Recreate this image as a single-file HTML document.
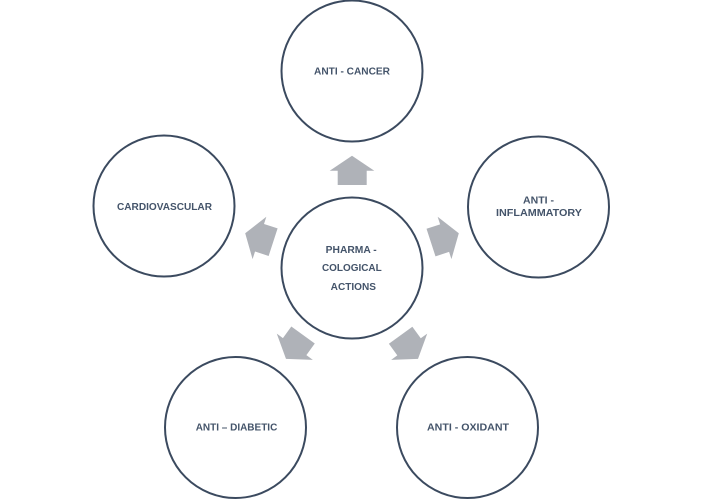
<!DOCTYPE html>
<html><head><meta charset="utf-8"><style>
html,body{margin:0;padding:0;background:#fff;}
svg{display:block;}
text{font-family:"Liberation Sans",Arial,sans-serif;font-weight:bold;font-size:10px;fill:#44546a;}
</style></head><body>
<svg width="704" height="499" viewBox="0 0 704 499" xmlns="http://www.w3.org/2000/svg">
<g fill="#afb2b8">
<polygon id="a" points="352,155.7 374.3,170.7 366.7,170.7 366.7,185 337.7,185 337.7,170.7 329.7,170.7"/>
<polygon points="352,155.7 374.3,170.7 366.7,170.7 366.7,185 337.7,185 337.7,170.7 329.7,170.7" transform="rotate(72 352 268)"/>
<polygon points="352,155.7 374.3,170.7 366.7,170.7 366.7,185 337.7,185 337.7,170.7 329.7,170.7" transform="rotate(144 352 268)"/>
<polygon points="352,155.7 374.3,170.7 366.7,170.7 366.7,185 337.7,185 337.7,170.7 329.7,170.7" transform="rotate(216 352 268)"/>
<polygon points="352,155.7 374.3,170.7 366.7,170.7 366.7,185 337.7,185 337.7,170.7 329.7,170.7" transform="rotate(288 352 268)"/>
</g>
<g fill="none" stroke="#3b4a5f" stroke-width="2">
<circle cx="352" cy="268" r="70.5"/>
<circle cx="352" cy="71" r="70.5"/>
<circle cx="538.5" cy="207" r="70.5"/>
<circle cx="467.5" cy="427.5" r="70.5"/>
<circle cx="235.5" cy="427.5" r="70.5"/>
<circle cx="164" cy="206" r="70.5"/>
</g>
<text x="314" y="74.5" textLength="76" lengthAdjust="spacingAndGlyphs">ANTI - CANCER</text>
<text x="523" y="203.5" textLength="31" lengthAdjust="spacingAndGlyphs">ANTI -</text>
<text x="496" y="216.2" textLength="86" lengthAdjust="spacingAndGlyphs">INFLAMMATORY</text>
<text x="117" y="210.2" textLength="95" lengthAdjust="spacingAndGlyphs">CARDIOVASCULAR</text>
<text x="195.7" y="430.5" textLength="81.6" lengthAdjust="spacingAndGlyphs">ANTI – DIABETIC</text>
<text x="427" y="430.5" textLength="82" lengthAdjust="spacingAndGlyphs">ANTI - OXIDANT</text>
<text x="325.7" y="252.8" textLength="51" lengthAdjust="spacingAndGlyphs">PHARMA -</text>
<text x="322" y="271.2" textLength="59.7" lengthAdjust="spacingAndGlyphs">COLOGICAL</text>
<text x="330.7" y="290.2" textLength="45.3" lengthAdjust="spacingAndGlyphs">ACTIONS</text>
</svg>
</body></html>
